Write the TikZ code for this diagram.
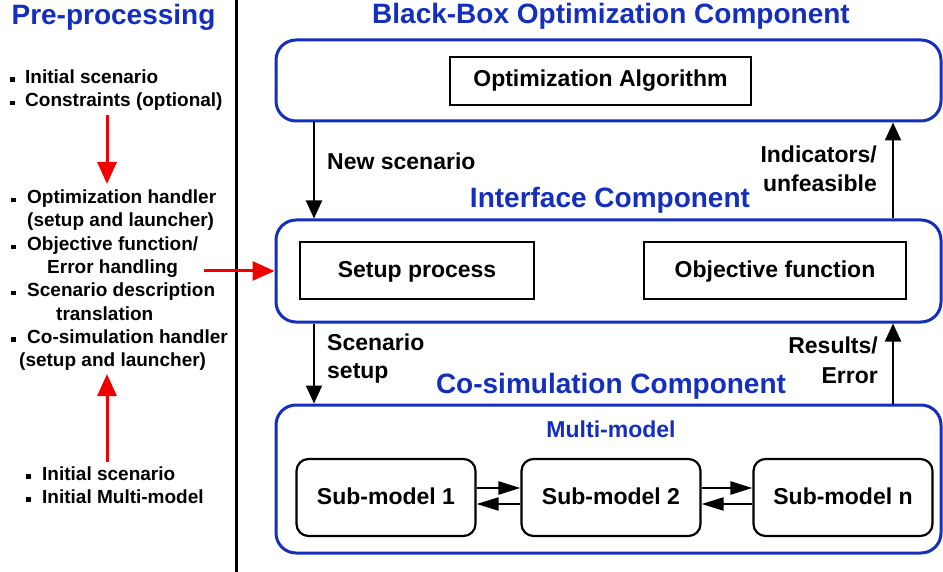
\documentclass[tikz,border=0pt]{standalone}
\usepackage{fontspec}
\setmainfont{Liberation Sans}
\usetikzlibrary{arrows.meta}
\definecolor{compblue}{RGB}{20,46,190}
\definecolor{flowred}{RGB}{240,0,0}
\newcommand\TitleFont{\fontsize{28}{30}\selectfont\bfseries}
\newcommand\BoxFont{\fontsize{23}{26}\selectfont\bfseries}
\newcommand\LabelFont{\fontsize{23}{26}\selectfont\bfseries}
\newcommand\LeftFont{\fontsize{19}{22}\selectfont\bfseries}
\newcommand\MultiFont{\fontsize{23}{25}\selectfont\bfseries}
\newcommand\bul[2]{\fill (#1,#2-6) rectangle ++(4.5,4.5);}
\tikzset{
  comp/.style={draw=compblue, line width=3pt, rounded corners=20pt,
    inner sep=0pt, minimum width=665pt},
  procbox/.style={draw=black, line width=2.5pt, inner sep=0pt, font=\BoxFont},
  subbox/.style={draw=black, line width=2.2pt, rounded corners=12pt, inner sep=0pt,
    minimum width=179pt, minimum height=77pt, font=\BoxFont,
    text height=16pt, text depth=3pt},
  ttl/.style={text=compblue, font=\TitleFont, inner sep=0pt, anchor=base},
  lbl/.style={font=\LabelFont, inner sep=0pt},
  lft/.style={font=\LeftFont, inner sep=0pt, anchor=base west},
  flow/.style={draw=black, line width=2.2pt, -{Triangle[width=16pt,length=18pt]}},
  link/.style={draw=black, line width=2.2pt, -{Triangle[width=13pt,length=22pt]}},
  redflow/.style={draw=flowred, line width=3pt, -{Triangle[width=19pt,length=22pt]}},
}
\begin{document}
\begin{tikzpicture}[x=1pt, y=-1pt]
\useasboundingbox (0,0) rectangle (943,572);

% column separator
\draw[line width=3pt] (236,0) -- (236,572);

% ---------- pre-processing column ----------
\node[ttl] (pretitle) at (113.5,25) {Pre-processing};

\bul{10}{83.3}
\node[lft] (p1) at (25,83.3) {Initial scenario};
\bul{10}{106.7}
\node[lft] (p2) at (25,106.7) {Constraints (optional)};

\bul{11}{204}
\node[lft] (q1) at (27,204) {Optimization handler};
\node[lft] (q2) at (27,227) {(setup and launcher)};
\bul{11}{250.7}
\node[lft] (q3) at (27,250.7) {Objective function/};
\node[lft] (q4) at (47,274) {Error handling};
\bul{11}{297}
\node[lft] (q5) at (27,297) {Scenario description};
\node[lft] (q6) at (56,320) {translation};
\bul{11}{343}
\node[lft] (q7) at (27,343) {Co-simulation handler};
\node[lft] (q8) at (19,366.5) {(setup and launcher)};

\bul{26}{480}
\node[lft] (s1) at (42,480) {Initial scenario};
\bul{26}{503}
\node[lft] (s2) at (42,503) {Initial Multi-model};

\coordinate (r1a) at (107,115);
\coordinate (r1b) at (107,184);
\coordinate (r2a) at (107,462);
\coordinate (r2b) at (107,374);
\coordinate (r3a) at (204,271);

% ---------- component boxes ----------
\node[ttl] (bbtitle) at (611,24) {Black-Box Optimization Component};
\node[comp, minimum height=81pt] (top) at (608.5,80.5) {};
\node[procbox, minimum width=301pt, minimum height=48pt,
      text height=15pt, text depth=3pt] (algo) at (600.5,81) {Optimization Algorithm};

\node[ttl] (iftitle) at (610,207.5) {Interface Component};
\node[comp, minimum height=102pt] (iface) at (608.5,271) {};
\node[procbox, minimum width=234pt, minimum height=57pt,
      text height=17pt, text depth=2pt] (setup) at (417,270.5) {Setup process};
\node[procbox, minimum width=262pt, minimum height=57pt,
      text height=17pt, text depth=2pt] (objf) at (775,270.5) {Objective function};

\node[ttl] (cstitle) at (611,393) {Co-simulation Component};
\node[comp, minimum height=148pt] (cosim) at (608.5,479) {};
\node[ttl, font=\MultiFont] (mm) at (611,437) {Multi-model};
\node[subbox] (sm1) at (386,497.5) {Sub-model 1};
\node[subbox] (sm2) at (611,497.5) {Sub-model 2};
\node[subbox] (smn) at (843,497.5) {Sub-model n};

% ---------- flow between components ----------
\coordinate (colL) at (314,0);
\coordinate (colR) at (893,0);

\draw[flow] (top.south -| colL) -- (iface.north -| colL);
\node[lbl, anchor=base west] (newsc) at (327,170) {New scenario};
\draw[flow] (iface.north -| colR) -- (top.south -| colR);
\node[lbl, anchor=base east] (ind1) at (877,163) {Indicators/};
\node[lbl, anchor=base east] (ind2) at (877,192) {unfeasible};

\draw[flow] (iface.south -| colL) -- (cosim.north -| colL);
\node[lbl, anchor=base west] (scen1) at (327,350.7) {Scenario};
\node[lbl, anchor=base west] (scen2) at (327,378) {setup};
\draw[flow] (cosim.north -| colR) -- (iface.south -| colR);
\node[lbl, anchor=base east] (res1) at (878,353) {Results/};
\node[lbl, anchor=base east] (res2) at (878,383) {Error};

% data exchange between sub-models
\draw[link] ([yshift=9.5pt]sm1.east) -- ([yshift=9.5pt]sm2.west);
\draw[link] ([yshift=-6.5pt]sm2.west) -- ([yshift=-6.5pt]sm1.east);
\draw[link] ([yshift=9.5pt]sm2.east) -- ([yshift=9.5pt]smn.west);
\draw[link] ([yshift=-6.5pt]smn.west) -- ([yshift=-6.5pt]sm2.east);

% pre-processing feeds
\draw[redflow] (r1a) -- (r1b);
\draw[redflow] (r2a) -- (r2b);
\draw[redflow] (r3a) -- (iface.west);
\end{tikzpicture}
\end{document}
